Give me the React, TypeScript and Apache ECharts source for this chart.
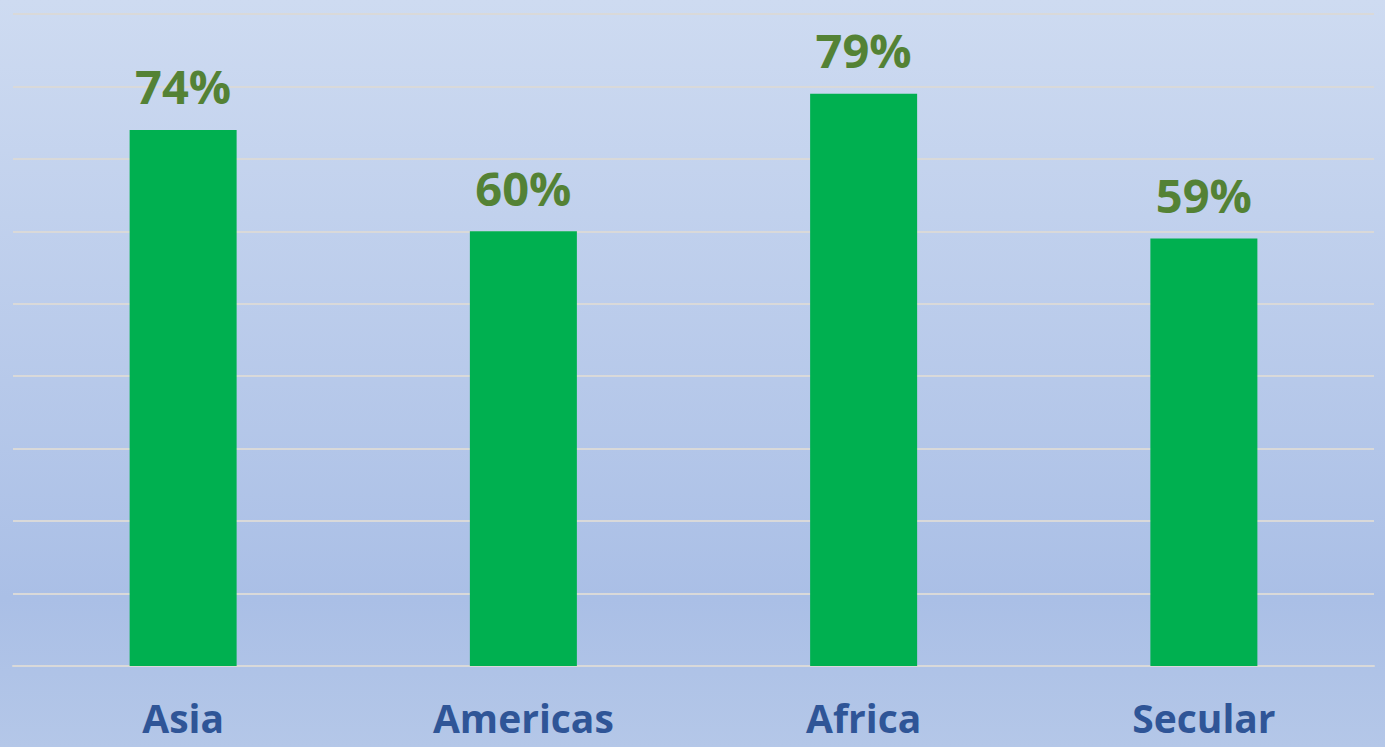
import React, { useEffect, useRef } from "react";
import * as echarts from "echarts";

const categories = ["Asia", "Americas", "Africa", "Secular"];
const values = [0.74, 0.6, 0.79, 0.59];
const yMax = 0.9;
const yInterval = 0.1;

export default function App() {
  const ref = useRef<HTMLDivElement>(null);
  useEffect(() => {
    document.body.style.margin = "0";
    const chart = echarts.init(ref.current!, null, { renderer: "svg" });
    chart.setOption({
      animation: false,
      backgroundColor: new echarts.graphic.LinearGradient(0, 0, 0, 1, [
        { offset: 0, color: "#cedbf1" },
        { offset: 0.8, color: "#aabfe6" },
        { offset: 1, color: "#b4c7e8" },
      ]),
      grid: { left: 13, right: 11, top: 14, bottom: 81 },
      xAxis: {
        type: "category",
        data: categories,
        axisLine: { show: true, lineStyle: { color: "#d9d9d9", width: 2 } },
        axisTick: { show: false },
        axisLabel: {
          color: "#2f5597",
          fontFamily: "Open Sans",
          fontWeight: "bold",
          fontSize: 39,
          lineHeight: 39,
          margin: 32,
        },
      },
      yAxis: {
        type: "value",
        min: 0,
        max: yMax,
        interval: yInterval,
        axisLabel: { show: false },
        axisLine: { show: false },
        axisTick: { show: false },
        splitLine: { lineStyle: { color: "#d9d9d9", width: 2 } },
      },
      series: [
        {
          type: "bar",
          data: values,
          barWidth: 107,
          itemStyle: { color: "#00b050" },
          label: {
            show: true,
            position: "top",
            distance: 20,
            color: "#548235",
            fontFamily: "Open Sans",
            fontWeight: "bold",
            fontSize: 47,
            formatter: (p: any) => Math.round(p.value * 100) + "%",
          },
        },
      ],
    });
    return () => chart.dispose();
  }, []);
  return <div ref={ref} style={{ width: 1385, height: 747 }} />;
}
